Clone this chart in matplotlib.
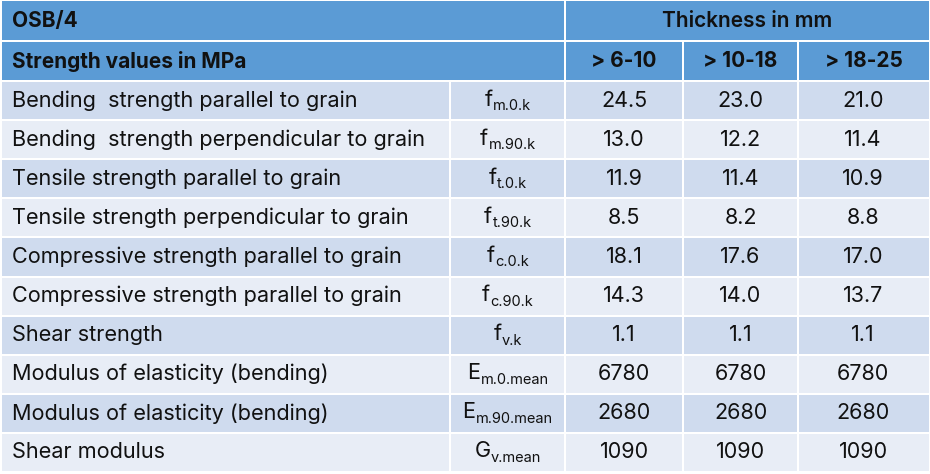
import matplotlib
matplotlib.use("Agg")
import matplotlib.pyplot as plt
from matplotlib.patches import Rectangle

# ---- data ----
title_left = "OSB/4"
title_right = "Thickness in mm"
subtitle = "Strength values in MPa"
thickness_classes = ["> 6-10", "> 10-18", "> 18-25"]
properties = [
    "Bending  strength parallel to grain",
    "Bending  strength perpendicular to grain",
    "Tensile strength parallel to grain",
    "Tensile strength perpendicular to grain",
    "Compressive strength parallel to grain",
    "Compressive strength parallel to grain",
    "Shear strength",
    "Modulus of elasticity (bending)",
    "Modulus of elasticity (bending)",
    "Shear modulus",
]
symbol_main = ["f", "f", "f", "f", "f", "f", "f", "E", "E", "G"]
symbol_sub = ["m.0.k", "m.90.k", "t.0.k", "t.90.k", "c.0.k", "c.90.k", "v.k",
              "m.0.mean", "m.90.mean", "v.mean"]
values_6_10 = [24.5, 13.0, 11.9, 8.5, 18.1, 14.3, 1.1, 6780, 2680, 1090]
values_10_18 = [23.0, 12.2, 11.4, 8.2, 17.6, 14.0, 1.1, 6780, 2680, 1090]
values_18_25 = [21.0, 11.4, 10.9, 8.8, 17.0, 13.7, 1.1, 6780, 2680, 1090]

# ---- style ----
FONT = "Inter"
plt.rcParams["font.family"] = [FONT, "DejaVu Sans"]
HEAD = "#5B9BD5"
DARK = "#CFDBEE"
LIGHT = "#E8EDF6"
TXT = "#111111"
FS = 15
FSL = 15.6
FSN = 15.5
FSS = 10.5

W, H = 930, 474
fig = plt.figure(figsize=(W / 100, H / 100), dpi=100)
ax = fig.add_axes([0, 0, 1, 1])
ax.set_xlim(0, W)
ax.set_ylim(H, 0)
ax.axis("off")
renderer = fig.canvas.get_renderer()

col_edges = [2, 451, 566, 684, 799, 929]
GAP = 2
data_top, pitch = 82, 39.1


def cell(x0, x1, y0, y1, color):
    ax.add_patch(Rectangle((x0, y0), x1 - x0 - GAP, y1 - y0 - GAP,
                           facecolor=color, edgecolor="none"))


def fmt(v):
    return f"{v:.1f}" if v < 100 else f"{v:.0f}"


def text_width(t):
    bb = t.get_window_extent(renderer=renderer)
    return bb.width  # pixels == data units here


def symbol(xc, yc, main, sub):
    t1 = ax.text(0, yc, main, ha="left", va="center", fontsize=FSL, color=TXT)
    t2 = ax.text(0, yc + 6.5, sub, ha="left", va="center", fontsize=FSS,
                 color=TXT)
    w1, w2 = text_width(t1), text_width(t2)
    x0 = xc - (w1 + w2) / 2
    t1.set_x(x0)
    t2.set_x(x0 + w1 + 0.5)


# header row 1
cell(col_edges[0], col_edges[2], 1, 42, HEAD)
cell(col_edges[2], col_edges[5] + GAP, 1, 42, HEAD)
ax.text(12, 21, title_left, ha="left", va="center", fontsize=FS,
        fontweight="bold", color=TXT)
ax.text((col_edges[2] + col_edges[5]) / 2, 21, title_right, ha="center",
        va="center", fontsize=FS, fontweight="semibold", color=TXT)

# header row 2
cell(col_edges[0], col_edges[2], 42, 82, HEAD)
ax.text(12, 61, subtitle, ha="left", va="center", fontsize=FS,
        fontweight="bold", color=TXT)
for j, lab in enumerate(thickness_classes):
    x0, x1 = col_edges[2 + j], col_edges[3 + j]
    if j == 2:
        x1 += GAP
    cell(x0, x1, 42, 82, HEAD)
    ax.text((x0 + x1 - GAP) / 2, 61, lab, ha="center", va="center",
            fontsize=FS, fontweight="bold", color=TXT)

# data rows
cols = [values_6_10, values_10_18, values_18_25]
for i, prop in enumerate(properties):
    y0 = data_top + i * pitch
    y1 = y0 + pitch
    yc = y0 + (pitch - GAP) / 2
    color = DARK if i % 2 == 0 else LIGHT
    for j in range(5):
        x1 = col_edges[j + 1] + (GAP if j == 4 else 0)
        cell(col_edges[j], x1, y0, y1, color)
    ax.text(12, yc, prop, ha="left", va="center", fontsize=FSL, color=TXT)
    symbol((col_edges[1] + col_edges[2] - GAP) / 2, yc - 1,
           symbol_main[i], symbol_sub[i])
    for j, vals in enumerate(cols):
        x0, x1 = col_edges[2 + j], col_edges[3 + j]
        ax.text((x0 + x1 - GAP) / 2, yc, fmt(vals[i]), ha="center",
                va="center", fontsize=FSN, color=TXT)

fig.savefig("out.png", dpi=100, facecolor="white")
